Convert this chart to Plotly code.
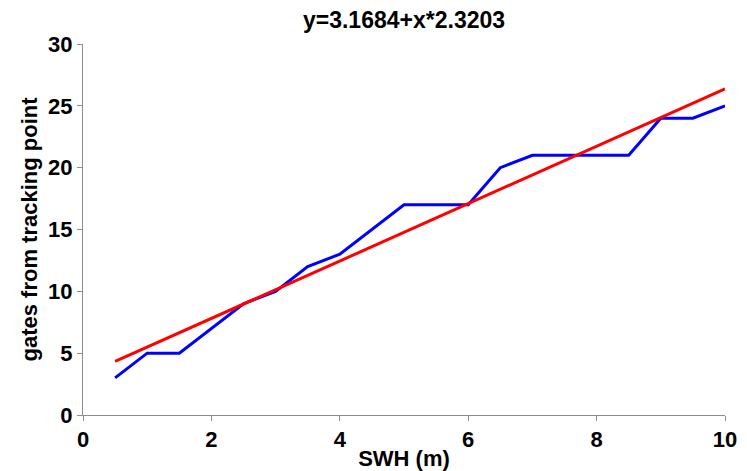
import numpy as np
import plotly.graph_objects as go

swh = [0.5, 1, 1.5, 2, 2.5, 3, 3.5, 4, 4.5, 5, 5.5, 6, 6.5, 7, 7.5, 8, 8.5, 9, 9.5, 10]
gates = [3, 5, 5, 7, 9, 10, 12, 13, 15, 17, 17, 17, 20, 21, 21, 21, 21, 24, 24, 25]
intercept = 3.1684
slope = 2.3203
fit_x = [0.5, 10]
fit_y = [intercept + slope * v for v in fit_x]
x_ticks = [0, 2, 4, 6, 8, 10]
y_ticks = [0, 5, 10, 15, 20, 25, 30]

font = "Liberation Sans"
fig = go.Figure()
fig.add_trace(go.Scatter(x=swh, y=gates, mode="lines", line=dict(color="#0000ff", width=3), showlegend=False))
fig.add_trace(go.Scatter(x=fit_x, y=fit_y, mode="lines", line=dict(color="#ff0000", width=3), showlegend=False))

axis_common = dict(showline=True, linecolor="#8c8c8c", linewidth=1, ticks="outside", ticklen=5,
                   tickcolor="#8c8c8c", showgrid=False, zeroline=False, automargin=False,
                   tickfont=dict(family=font, size=22, color="black"))
fig.update_layout(
    width=747, height=471,
    margin=dict(l=83, r=22, t=44, b=56),
    plot_bgcolor="white", paper_bgcolor="white",
    title=dict(text="<b>y=3.1684+x*2.3203</b>", x=0.5, xref="paper", y=1 - 20/471, yanchor="middle",
               font=dict(family=font, size=23, color="black")),
    xaxis=dict(range=[0, 10], tickvals=x_ticks, ticktext=["<b>%d</b>" % v for v in x_ticks],
               title=dict(text="<b>SWH (m)</b>", font=dict(family=font, size=22, color="black"), standoff=0),
               **axis_common),
    yaxis=dict(range=[0, 30], tickvals=y_ticks, ticktext=["<b>%d</b>" % v for v in y_ticks],
               title=dict(text="<b>gates from tracking point</b>", font=dict(family=font, size=22, color="black"), standoff=4),
               **axis_common),
)
fig.write_html("out.html")
